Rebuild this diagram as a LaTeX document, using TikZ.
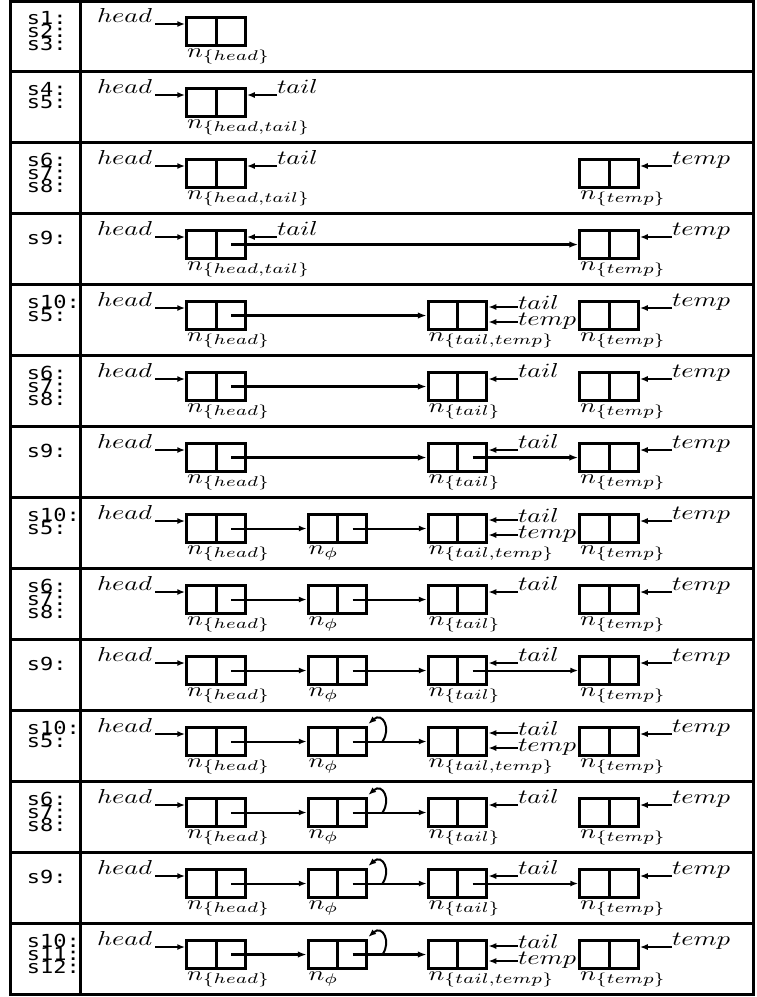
\documentclass[tikz,border=0pt]{standalone}
\usepackage{fontspec}
\usetikzlibrary{arrows.meta,calc}
\newfontfamily\lblfont{DejaVu Sans Mono}
\newcommand\mt[1]{\scalebox{2.63}[2.02]{$#1$}}
\newcommand\lt[1]{\scalebox{2.2}[1.8]{\lblfont #1}}
\tikzset{
  box/.style={draw, line width=3pt, minimum width=58.5pt, minimum height=28pt, inner sep=0pt},
  divl/.style={line width=3pt},
  txt/.style={inner sep=0pt, outer sep=0pt},
  ptr/.style={line width=2pt, -{Latex[length=8pt,width=6pt]}},
  thk/.style={line width=3pt, -{Latex[length=9pt,width=6.5pt]}},
  thn/.style={line width=2pt, -{Latex[length=8pt,width=6pt]}},
  grid/.style={line width=3pt},
}
\newcommand\setrow[1]{\pgfmathsetmacro\T{0.5+71*#1}\pgfmathsetmacro\B{\T+15.5}\pgfmathsetmacro\C{\B+15.5}}
\newcommand\mkbox[3]{%
  \node[box] (#1) at (#2,\C) {};
  \draw[divl] (#1.north) -- (#1.south);
  \node[txt,anchor=base west] (#1n) at ({#2-29},{\B+41}) {\mt{n_{#3}}};}
\newcommand\mkhead[1]{%
  \node[txt,anchor=base east] (h#1) at (152,{\B+6.5}) {\mt{head}};
  \path ($(h#1.base east)+(3,1.5)$) coordinate (hs#1);
  \draw[ptr] (hs#1) -- (hs#1 -| a#1.west);}
\newcommand\mktail[3]{%
  \node[txt,anchor=base west] (t#1) at (#3,{\B+6.5}) {\mt{tail}};
  \path ($(t#1.base west)+(0,1.5)$) coordinate (ts#1);
  \draw[ptr] (ts#1) -- (ts#1 -| #2.east);}
\newcommand\mktt[3]{%
  \node[txt,anchor=base west] (t#1) at (#3,{\B+9.5}) {\mt{tail}};
  \path ($(t#1.base west)+(0,-2.5)$) coordinate (ts#1);
  \draw[ptr] (ts#1) -- (ts#1 -| #2.east);
  \node[txt,anchor=base west] (m#1) at (#3,{\B+25}) {\mt{temp}};
  \path ($(m#1.base west)+(0,-3)$) coordinate (ms#1);
  \draw[ptr] (ms#1) -- (ms#1 -| #2.east);}
\newcommand\mktemp[1]{%
  \node[txt,anchor=base west] (p#1) at (672,{\B+6.5}) {\mt{temp}};
  \path ($(p#1.base west)+(0,1.5)$) coordinate (ps#1);
  \draw[ptr] (ps#1) -- (ps#1 -| d#1.east);}
\newcommand\lnk[3]{\draw[#1] ($(#2.center)+(15,0)$) -- (#3.west);}
\newcommand\lp[1]{\draw[thn] ($(#1.center)+(45,0)$) .. controls ($(#1.center)+(54,-13)$) and ($(#1.center)+(45,-30)$) .. ($(#1.north east)+(0,-2)$);}
\newcommand\labs[2]{\foreach \s [count=\i from 0] in {#2} {\node[txt,anchor=base west] (L#1-\i) at (27,{\T+24+13*\i}) {\lt{\s}};}}
\newcommand\labone[2]{\node[txt,anchor=base west] (L#1-0) at (27,{\T+30.5}) {\lt{#2}};}
\begin{document}
\begin{tikzpicture}[x=1pt,y=-1pt]
\useasboundingbox (0,0) rectangle (757,997);
% table
\draw[grid] (10,1.5) rectangle (753,994.5);
\draw[grid] (80,1.5) -- (80,994.5);
\foreach \k in {1,...,13} {\draw[grid] (10,{0.5+71*\k}) -- (753,{0.5+71*\k});}
% row 0
\setrow{0}
\mkbox{a0}{216}{\{head\}}
\mkhead{0}
\labs{0}{s1:,s2:,s3:}
% row 1
\setrow{1}
\mkbox{a1}{216}{\{head,tail\}}
\mkhead{1}
\mktail{1}{a1}{277}
\labs{1}{s4:,s5:}
% row 2
\setrow{2}
\mkbox{a2}{216}{\{head,tail\}}
\mkbox{d2}{609}{\{temp\}}
\mkhead{2}
\mktail{2}{a2}{277}
\mktemp{2}
\labs{2}{s6:,s7:,s8:}
% row 3
\setrow{3}
\mkbox{a3}{216}{\{head,tail\}}
\mkbox{d3}{609}{\{temp\}}
\lnk{thk}{a3}{d3}
\mkhead{3}
\mktail{3}{a3}{277}
\mktemp{3}
\labone{3}{s9:}
% row 4
\setrow{4}
\mkbox{a4}{216}{\{head\}}
\mkbox{c4}{457.5}{\{tail,temp\}}
\mkbox{d4}{609}{\{temp\}}
\lnk{thk}{a4}{c4}
\mkhead{4}
\mktt{4}{c4}{518}
\mktemp{4}
\labs{4}{s10:,s5:}
% row 5
\setrow{5}
\mkbox{a5}{216}{\{head\}}
\mkbox{c5}{457.5}{\{tail\}}
\mkbox{d5}{609}{\{temp\}}
\lnk{thk}{a5}{c5}
\mkhead{5}
\mktail{5}{c5}{518}
\mktemp{5}
\labs{5}{s6:,s7:,s8:}
% row 6
\setrow{6}
\mkbox{a6}{216}{\{head\}}
\mkbox{c6}{457.5}{\{tail\}}
\mkbox{d6}{609}{\{temp\}}
\lnk{thk}{a6}{c6}
\lnk{thk}{c6}{d6}
\mkhead{6}
\mktail{6}{c6}{518}
\mktemp{6}
\labone{6}{s9:}
% row 7
\setrow{7}
\mkbox{a7}{216}{\{head\}}
\mkbox{b7}{337.5}{\phi}
\mkbox{c7}{457.5}{\{tail,temp\}}
\mkbox{d7}{609}{\{temp\}}
\lnk{thn}{a7}{b7}
\lnk{thn}{b7}{c7}
\mkhead{7}
\mktt{7}{c7}{518}
\mktemp{7}
\labs{7}{s10:,s5:}
% row 8
\setrow{8}
\mkbox{a8}{216}{\{head\}}
\mkbox{b8}{337.5}{\phi}
\mkbox{c8}{457.5}{\{tail\}}
\mkbox{d8}{609}{\{temp\}}
\lnk{thn}{a8}{b8}
\lnk{thn}{b8}{c8}
\mkhead{8}
\mktail{8}{c8}{518}
\mktemp{8}
\labs{8}{s6:,s7:,s8:}
% row 9
\setrow{9}
\mkbox{a9}{216}{\{head\}}
\mkbox{b9}{337.5}{\phi}
\mkbox{c9}{457.5}{\{tail\}}
\mkbox{d9}{609}{\{temp\}}
\lnk{thn}{a9}{b9}
\lnk{thn}{b9}{c9}
\lnk{thn}{c9}{d9}
\mkhead{9}
\mktail{9}{c9}{518}
\mktemp{9}
\labone{9}{s9:}
% row 10
\setrow{10}
\mkbox{a10}{216}{\{head\}}
\mkbox{b10}{337.5}{\phi}
\mkbox{c10}{457.5}{\{tail,temp\}}
\mkbox{d10}{609}{\{temp\}}
\lnk{thn}{a10}{b10}
\lnk{thn}{b10}{c10}
\lp{b10}
\mkhead{10}
\mktt{10}{c10}{518}
\mktemp{10}
\labs{10}{s10:,s5:}
% row 11
\setrow{11}
\mkbox{a11}{216}{\{head\}}
\mkbox{b11}{337.5}{\phi}
\mkbox{c11}{457.5}{\{tail\}}
\mkbox{d11}{609}{\{temp\}}
\lnk{thn}{a11}{b11}
\lnk{thn}{b11}{c11}
\lp{b11}
\mkhead{11}
\mktail{11}{c11}{518}
\mktemp{11}
\labs{11}{s6:,s7:,s8:}
% row 12
\setrow{12}
\mkbox{a12}{216}{\{head\}}
\mkbox{b12}{337.5}{\phi}
\mkbox{c12}{457.5}{\{tail\}}
\mkbox{d12}{609}{\{temp\}}
\lnk{thn}{a12}{b12}
\lnk{thn}{b12}{c12}
\lnk{thn}{c12}{d12}
\lp{b12}
\mkhead{12}
\mktail{12}{c12}{518}
\mktemp{12}
\labone{12}{s9:}
% row 13
\setrow{13}
\mkbox{a13}{216}{\{head\}}
\mkbox{b13}{337.5}{\phi}
\mkbox{c13}{457.5}{\{tail,temp\}}
\mkbox{d13}{609}{\{temp\}}
\lnk{thk}{a13}{b13}
\lnk{thk}{b13}{c13}
\lp{b13}
\mkhead{13}
\mktt{13}{c13}{518}
\mktemp{13}
\labs{13}{s10:,s11:,s12:}
\end{tikzpicture}
\end{document}
